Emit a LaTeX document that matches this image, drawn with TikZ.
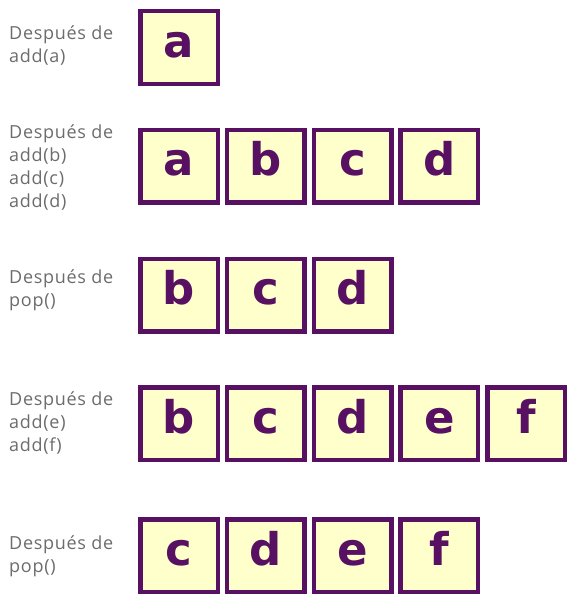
\documentclass[tikz,border=0pt]{standalone}
\usepackage{fontspec}
\setmainfont{Open Sans}
\newfontfamily\cellfont{DejaVu Sans}
\usepackage{tikz}
\definecolor{mypurple}{RGB}{88,16,98}
\definecolor{myfill}{RGB}{255,255,204}
\definecolor{mygray}{RGB}{108,108,108}
\tikzset{cell/.style={draw=mypurple, fill=myfill, line width=4.5pt,
         minimum width=77.5pt, minimum height=72.5pt, inner sep=0pt,
         text height=19pt, text depth=0pt, text=mypurple,
         font=\fontsize{45}{45}\cellfont\bfseries},
         lbl/.style={anchor=west, align=left, inner sep=0pt, text=mygray,
         font=\fontsize{18}{23}\selectfont\addfontfeature{LetterSpace=4}}}

\begin{document}
\begin{tikzpicture}[x=1pt,y=1pt]
\useasboundingbox (0,0) rectangle (580,-610);

% after add(a)
\node [lbl] (l1) at (9,-46) {Después de\\add(a)};
\node [cell] (a1) at (179,-47.5) {a};

% after add(b), add(c), add(d)
\node [lbl] (l2) at (9,-168) {Después de\\add(b)\\add(c)\\add(d)};
\node [cell] (a2) at (179,-166) {a};
\node [cell] (b2) at (265.8,-166) {b};
\node [cell] (c2) at (352.6,-166) {c};
\node [cell] (d2) at (439.4,-166) {d};

% after pop()
\node [lbl] (l3) at (9,-290) {Después de\\pop()};
\node [cell] (b3) at (179,-295) {b};
\node [cell] (c3) at (265.8,-295) {c};
\node [cell] (d3) at (352.6,-295) {d};

% after add(e), add(f)
\node [lbl] (l4) at (9,-423) {Después de\\add(e)\\add(f)};
\node [cell] (b4) at (179,-423.5) {b};
\node [cell] (c4) at (265.8,-423.5) {c};
\node [cell] (d4) at (352.6,-423.5) {d};
\node [cell] (e4) at (439.4,-423.5) {e};
\node [cell] (f4) at (526.2,-423.5) {f};

% after pop()
\node [lbl] (l5) at (9,-556) {Después de\\pop()};
\node [cell] (c5) at (179,-555.5) {c};
\node [cell] (d5) at (265.8,-555.5) {d};
\node [cell] (e5) at (352.6,-555.5) {e};
\node [cell] (f5) at (439.4,-555.5) {f};

\end{tikzpicture}
\end{document}
